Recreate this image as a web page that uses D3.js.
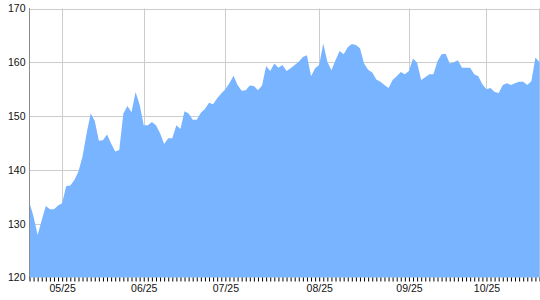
<!DOCTYPE html>
<html>
<head>
<meta charset="utf-8">
<script src="https://cdn.jsdelivr.net/npm/d3@7/dist/d3.min.js"></script>
<style>
html,body{margin:0;padding:0;background:#fff;}
svg{display:block;}
text{font-family:"Liberation Sans",Arial,sans-serif;}
</style>
</head>
<body>
<svg id="chart" width="540" height="300"></svg>
<script>
const values = [
133.9,131.3,127.9,130.7,133.3,132.7,132.7,133.4,133.8,137.0,
137.1,138.1,139.7,142.5,146.8,150.5,149.1,145.4,145.5,146.6,
144.9,143.4,143.7,150.5,151.9,150.7,154.5,152.1,148.3,148.3,
148.9,148.3,146.8,144.8,145.9,145.9,148.3,147.6,150.9,150.5,
149.3,149.3,150.6,151.3,152.5,152.2,153.3,154.2,155.0,156.1,
157.5,155.8,154.7,154.8,155.7,155.6,154.8,155.7,159.3,158.4,
159.8,159.0,159.5,158.4,158.9,159.5,160.1,161.0,161.3,157.4,
158.9,159.5,163.5,160.1,158.5,160.4,162.1,161.5,162.8,163.4,
163.2,162.6,159.8,158.6,158.1,156.8,156.4,155.8,155.2,156.7,
157.4,158.2,157.8,158.4,160.7,159.9,156.7,157.2,157.8,157.8,
160.2,161.5,161.6,159.8,160.0,160.4,159.0,159.0,159.0,157.8,
157.4,155.9,155.0,155.2,154.5,154.3,155.8,156.1,155.8,156.1,
156.4,156.4,155.8,156.5,160.9,160.0
];
const labelIndex = [8, 28, 48, 71, 93, 112];
const labelText = ["05/25","06/25","07/25","08/25","09/25","10/25"];
const yTicks = [120,130,140,150,160,170];

const svg = d3.select("#chart");
const x = d3.scaleLinear().domain([0, values.length - 1]).range([29.5, 539.5]);
const y = d3.scaleLinear().domain([120, 170]).range([277.5, 8.5]);

// grid
const grid = svg.append("g").attr("stroke", "#cccccc").attr("stroke-width", 1);
grid.selectAll("line.h").data(yTicks.filter(d => d > 120)).enter().append("line")
  .attr("x1", 29.5).attr("x2", 539.5)
  .attr("y1", d => Math.round(y(d)) + 0.5).attr("y2", d => Math.round(y(d)) + 0.5);
grid.selectAll("line.v").data(labelIndex).enter().append("line")
  .attr("x1", d => Math.round(x(d)) + 0.5).attr("x2", d => Math.round(x(d)) + 0.5)
  .attr("y1", 8.5).attr("y2", 277.5);
grid.append("line").attr("x1", 539.5).attr("x2", 539.5).attr("y1", 8.5).attr("y2", 277.5);

// area
const area = d3.area()
  .x((d, i) => x(i))
  .y0(y(120))
  .y1(d => y(d));
svg.append("path").datum(values).attr("d", area).attr("fill", "#78b4ff");

// left axis line
svg.append("line").attr("x1", 29.5).attr("x2", 29.5).attr("y1", 8).attr("y2", 278)
  .attr("stroke", "#8c8c8c");

// y labels
const yAxis = d3.axisLeft(y).tickValues(yTicks).tickSize(0).tickPadding(4).tickFormat(d3.format("d"));
const ya = svg.append("g").attr("transform", "translate(29.5,0)").call(yAxis);
ya.select(".domain").remove();
ya.selectAll("text").attr("font-size", "10.5px").attr("fill", "#111").attr("font-family", '"Liberation Sans",Arial,sans-serif');

// x axis with a tick for every point
const lmap = new Map(labelIndex.map((d, i) => [d, labelText[i]]));
const xAxis = d3.axisBottom(x).tickValues(d3.range(values.length)).tickSize(4).tickPadding(3)
  .tickFormat(d => lmap.get(d) || "");
const xa = svg.append("g").attr("transform", "translate(0,277.5)").call(xAxis);
xa.select(".domain").remove();
xa.selectAll("line").attr("stroke", "#000");
xa.selectAll("text").attr("font-size", "10.5px").attr("fill", "#111").attr("font-family", '"Liberation Sans",Arial,sans-serif');
</script>
</body>
</html>
